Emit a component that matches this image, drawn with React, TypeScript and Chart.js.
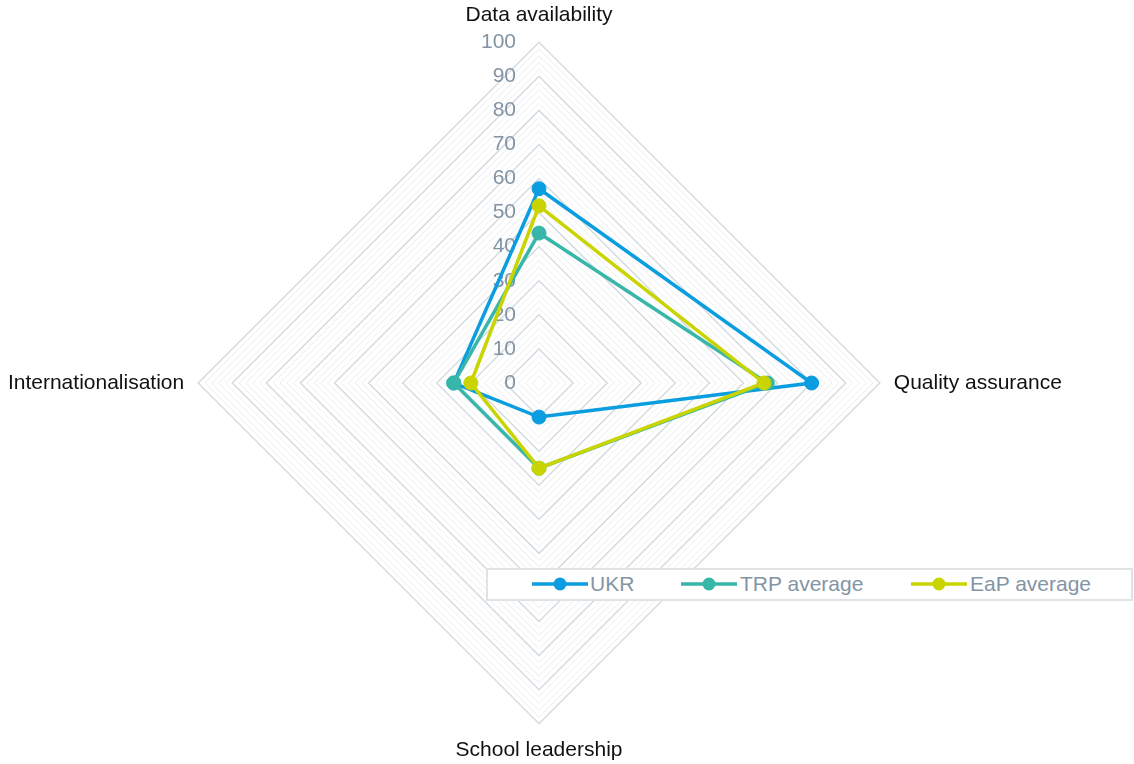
import React, { useEffect, useRef } from 'react';
import { Chart, registerables } from 'chart.js';

Chart.register(...registerables);

const categories = ['Data availability', 'Quality assurance', 'School leadership', 'Internationalisation'];
const seriesNames = ['UKR', 'TRP average', 'EaP average'];
const ukrValues = [57, 80, 10, 25];
const trpValues = [44, 67, 25, 25];
const eapValues = [52, 66, 25, 20];
const tickLabels = [0, 10, 20, 30, 40, 50, 60, 70, 80, 90, 100];
const seriesColors = ['#0a9de0', '#38b6a9', '#c9d400'];

const FONT = '"Liberation Sans", Arial, Helvetica, sans-serif';
const TICK_COLOR = '#8394a4';
const MAJOR_GRID = '#d5dbe0';
const MINOR_GRID = '#ebeef1';
const SHIFT = 40;

const sideTicks = {
  id: 'sideTicks',
  beforeDatasetsDraw(chart: any) {
    const s = chart.scales.r;
    const ctx = chart.ctx;
    ctx.save();
    ctx.font = `21px ${FONT}`;
    ctx.fillStyle = TICK_COLOR;
    ctx.textAlign = 'right';
    ctx.textBaseline = 'middle';
    tickLabels.forEach((v) => {
      const d = s.getDistanceFromCenterForValue(v);
      ctx.fillText(String(v), s.xCenter - 23, s.yCenter - d);
    });
    ctx.restore();
  },
};

function LegendMarker({ color }: { color: string }) {
  return (
    <svg width={56} height={16} style={{ display: 'block' }}>
      <line x1={0} y1={8} x2={56} y2={8} stroke={color} strokeWidth={3.5} />
      <circle cx={28} cy={8} r={6.5} fill={color} />
    </svg>
  );
}

export default function App() {
  const ref = useRef<HTMLCanvasElement | null>(null);

  useEffect(() => {
    if (!ref.current) return;
    const values = [ukrValues, trpValues, eapValues];
    const chart = new Chart(ref.current, {
      type: 'radar',
      data: {
        labels: categories,
        datasets: seriesNames.map((name, i) => ({
          label: name,
          data: values[i],
          borderColor: seriesColors[i],
          backgroundColor: seriesColors[i],
          pointBackgroundColor: seriesColors[i],
          pointBorderColor: seriesColors[i],
          borderWidth: 3.5,
          pointRadius: 7,
          pointBorderWidth: 1,
          fill: false,
          order: 2 - i,
        })),
      },
      options: {
        responsive: false,
        animation: false,
        layout: { padding: { top: 4, right: 16, bottom: -1, left: 0 } },
        plugins: { legend: { display: false }, tooltip: { enabled: false } },
        elements: { line: { tension: 0 } },
        scales: {
          r: {
            min: 0,
            max: 100,
            beginAtZero: true,
            ticks: { display: false, stepSize: 2 },
            grid: {
              circular: false,
              color: (c: any) => (c.tick && c.tick.value % 10 === 0 ? MAJOR_GRID : MINOR_GRID),
              lineWidth: (c: any) => (c.tick && c.tick.value % 10 === 0 ? 1.5 : 1),
            },
            angleLines: { display: false },
            pointLabels: {
              font: { size: 21, family: FONT },
              color: '#111111',
              padding: 14,
            },
          },
        },
      },
      plugins: [sideTicks],
    } as any);
    return () => chart.destroy();
  }, []);

  const items = [
    { name: seriesNames[0], color: seriesColors[0], marker: 532, text: 590 },
    { name: seriesNames[1], color: seriesColors[1], marker: 681, text: 740 },
    { name: seriesNames[2], color: seriesColors[2], marker: 911, text: 970 },
  ];

  return (
    <div style={{ position: 'absolute', left: 0, top: 0, width: 1134, height: 764, overflow: 'hidden', background: '#fff' }}>
      <div style={{ position: 'absolute', left: -SHIFT, top: 0, width: 1134 + SHIFT, height: 764 }}>
        <canvas ref={ref} width={1134 + SHIFT} height={764} style={{ display: 'block' }} />
      </div>
      <div
        style={{
          position: 'absolute',
          left: 486,
          top: 568,
          width: 647,
          height: 33,
          boxSizing: 'border-box',
          border: '2px solid #dfe3e6',
          background: '#fff',
        }}
      />
      {items.map((it) => (
        <React.Fragment key={it.name}>
          <div style={{ position: 'absolute', left: it.marker, top: 576 }}>
            <LegendMarker color={it.color} />
          </div>
          <div
            style={{
              position: 'absolute',
              left: it.text,
              top: 572,
              height: 24,
              lineHeight: '24px',
              fontSize: 21,
              fontFamily: FONT,
              color: TICK_COLOR,
              whiteSpace: 'nowrap',
            }}
          >
            {it.name}
          </div>
        </React.Fragment>
      ))}
    </div>
  );
}
